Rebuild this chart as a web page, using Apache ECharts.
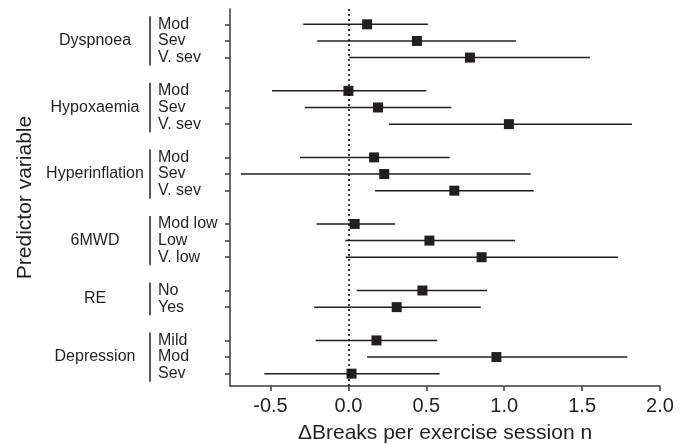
<!DOCTYPE html>
<html>
<head>
<meta charset="utf-8">
<script src="https://cdn.jsdelivr.net/npm/echarts@6/dist/echarts.min.js"></script>
<style>
  html, body { margin: 0; padding: 0; background: #fff; }
  #chart { width: 688px; height: 445px; }
</style>
</head>
<body>
<div id="chart"></div>
<script>
// predictor groups and their levels (top to bottom)
const groups = ['Dyspnoea', 'Hypoxaemia', 'Hyperinflation', '6MWD', 'RE', 'Depression']
const levels = [
    ['Mod', 'Sev', 'V. sev'],
    ['Mod', 'Sev', 'V. sev'],
    ['Mod', 'Sev', 'V. sev'],
    ['Mod low', 'Low', 'V. low'],
    ['No', 'Yes'],
    ['Mild', 'Mod', 'Sev']
]
// delta breaks per exercise session, point estimate and 95% CI
const estimates = [0.12, 0.44, 0.78, 0.00, 0.19, 1.03, 0.165, 0.23, 0.68, 0.04, 0.52, 0.855, 0.475, 0.31, 0.18, 0.95, 0.02]
const lower = [-0.29, -0.20, 0.005, -0.49, -0.28, 0.26, -0.31, -0.69, 0.17, -0.205, -0.02, -0.017, 0.054, -0.22, -0.21, 0.12, -0.54]
const upper = [0.51, 1.075, 1.55, 0.50, 0.66, 1.82, 0.65, 1.17, 1.19, 0.30, 1.07, 1.73, 0.89, 0.85, 0.57, 1.79, 0.585]
const xTicks = [-0.5, 0, 0.5, 1.0, 1.5, 2.0]

const ink = '#231f20'
const font = 'Liberation Sans, Arial, Helvetica, sans-serif'

// row slots: one empty slot between groups
const rowPos = []
const rowLabel = {}
const groupSpans = []
let slot = 0
groups.forEach((g, gi) => {
    const first = slot
    levels[gi].forEach(lv => {
        rowPos.push(slot)
        rowLabel[slot] = lv
        slot++
    })
    groupSpans.push([0, first, slot - 1, gi])
    slot++ // gap
})

const barData = rowPos.map((p, i) => [lower[i], upper[i], p])
const pointData = rowPos.map((p, i) => [estimates[i], p])

const chart = echarts.init(document.getElementById('chart'))
const option = {
    animation: false,
    grid: { left: 230, right: 28, top: 9, bottom: 59, outerBoundsMode: 'none' },
    xAxis: {
        type: 'value',
        min: -0.76,
        max: 2.0,
        name: '\u0394Breaks per exercise session n',
        nameLocation: 'middle',
        nameGap: 37,
        nameTextStyle: { fontSize: 21, color: ink, fontFamily: font },
        axisLine: { show: true, onZero: false, lineStyle: { color: '#3a3a3a', width: 1.5 } },
        axisTick: { show: true, length: 5, customValues: xTicks, lineStyle: { color: '#3a3a3a', width: 1.5 } },
        axisLabel: {
            customValues: xTicks,
            margin: 10,
            fontSize: 20,
            color: ink,
            fontFamily: font,
            formatter: v => v.toFixed(1)
        },
        splitLine: { show: false }
    },
    yAxis: {
        type: 'value',
        inverse: true,
        min: -0.92,
        max: 21.74,
        name: 'Predictor variable',
        nameLocation: 'middle',
        nameGap: 194,
        nameTextStyle: { fontSize: 21, color: ink, fontFamily: font },
        axisLine: { show: true, onZero: false, lineStyle: { color: '#3a3a3a', width: 1.5 } },
        axisTick: { show: true, length: 5, customValues: rowPos, lineStyle: { color: '#3a3a3a', width: 1.5 } },
        axisLabel: {
            customValues: rowPos,
            align: 'left',
            margin: 72,
            fontSize: 16,
            color: ink,
            fontFamily: font,
            formatter: v => rowLabel[v] || ''
        },
        splitLine: { show: false }
    },
    series: [
        {
            // confidence intervals
            type: 'custom',
            data: barData,
            encode: { x: [0, 1], y: 2 },
            renderItem: (params, api) => {
                const a = api.coord([api.value(0), api.value(2)])
                const b = api.coord([api.value(1), api.value(2)])
                return {
                    type: 'line',
                    shape: { x1: a[0], y1: a[1], x2: b[0], y2: b[1] },
                    style: { stroke: ink, lineWidth: 1.5 }
                }
            },
            z: 2
        },
        {
            // group names and brackets left of the level labels
            type: 'custom',
            clip: false,
            silent: true,
            data: groupSpans,
            encode: { x: 0, y: [1, 2] },
            renderItem: (params, api) => {
                const top = api.coord([0, api.value(1)])[1]
                const bot = api.coord([0, api.value(2)])[1]
                return {
                    type: 'group',
                    children: [
                        {
                            type: 'line',
                            shape: { x1: 150, y1: top - 8, x2: 150, y2: bot + 8 },
                            style: { stroke: ink, lineWidth: 1.5 }
                        },
                        {
                            type: 'text',
                            style: {
                                text: groups[api.value(3)],
                                x: 95,
                                y: (top + bot) / 2,
                                align: 'center',
                                verticalAlign: 'middle',
                                fontSize: 16,
                                fontFamily: font,
                                fill: ink
                            }
                        }
                    ]
                }
            }
        },
        {
            type: 'scatter',
            data: pointData,
            symbol: 'rect',
            symbolSize: 10,
            itemStyle: { color: ink, opacity: 1 },
            z: 3,
            markLine: {
                silent: true,
                symbol: 'none',
                label: { show: false },
                lineStyle: { color: '#000', width: 1.5, type: [2, 3] },
                data: [{ xAxis: 0 }]
            }
        }
    ]
}
chart.setOption(option)
window.addEventListener('resize', () => { chart.resize() })
</script>
</body>
</html>
